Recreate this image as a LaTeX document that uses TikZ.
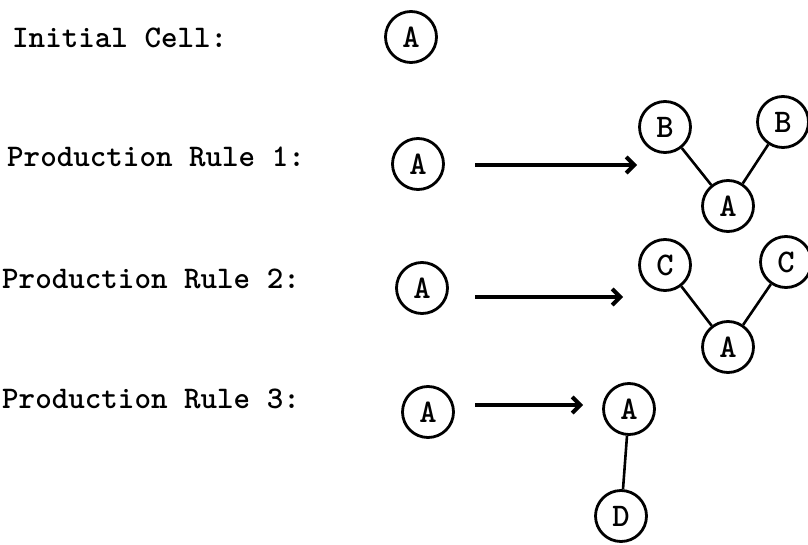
\documentclass[tikz,border=0pt]{standalone}
\usepackage{fontspec}
\usetikzlibrary{arrows.meta}
\tikzset{
  lbl/.style={anchor=base west, inner sep=0pt, font=\fontsize{31.5}{36}\selectfont\ttfamily\bfseries},
  cell/.style={circle, draw, line width=2.8pt, minimum size=51pt, inner sep=0pt, font=\fontsize{33}{33}\selectfont\ttfamily\bfseries},
  arr/.style={line width=4pt, -{Straight Barb[length=8pt,width=16pt,line width=4pt]}},
  edge/.style={line width=2.6pt}
}
\begin{document}
\begin{tikzpicture}[x=1pt,y=-1pt]
\useasboundingbox (0,0) rectangle (808,545);
% labels
\node[lbl] (t0) at (12,48) {Initial Cell:};
\node[lbl] (t1) at (7,167) {Production Rule 1:};
\node[lbl] (t2) at (2,288) {Production Rule 2:};
\node[lbl] (t3) at (2,408) {Production Rule 3:};
% initial cell
\node[cell] (i0) at (411,37) {A};
% rule 1
\node[cell] (r1a) at (418,164) {A};
\node[cell] (r1bl) at (665,127) {B};
\node[cell] (r1br) at (783,122) {B};
\node[cell] (r1c) at (728,206) {A};
\coordinate (r1s) at (475,165);
\coordinate (r1e) at (637,165);
\draw[arr] (r1s) -- (r1e);
\draw[edge] (r1bl) -- (r1c);
\draw[edge] (r1br) -- (r1c);
% rule 2
\node[cell] (r2a) at (422,288) {A};
\node[cell] (r2cl) at (665,265) {C};
\node[cell] (r2cr) at (786,262) {C};
\node[cell] (r2c) at (728,347) {A};
\coordinate (r2s) at (475,297);
\coordinate (r2e) at (623,297);
\draw[arr] (r2s) -- (r2e);
\draw[edge] (r2cl) -- (r2c);
\draw[edge] (r2cr) -- (r2c);
% rule 3
\node[cell] (r3a) at (428,412) {A};
\node[cell] (r3b) at (629,409) {A};
\node[cell] (r3d) at (621,516) {D};
\coordinate (r3s) at (475,405);
\coordinate (r3e) at (583,405);
\draw[arr] (r3s) -- (r3e);
\draw[edge] (r3b) -- (r3d);
\end{tikzpicture}
\end{document}
